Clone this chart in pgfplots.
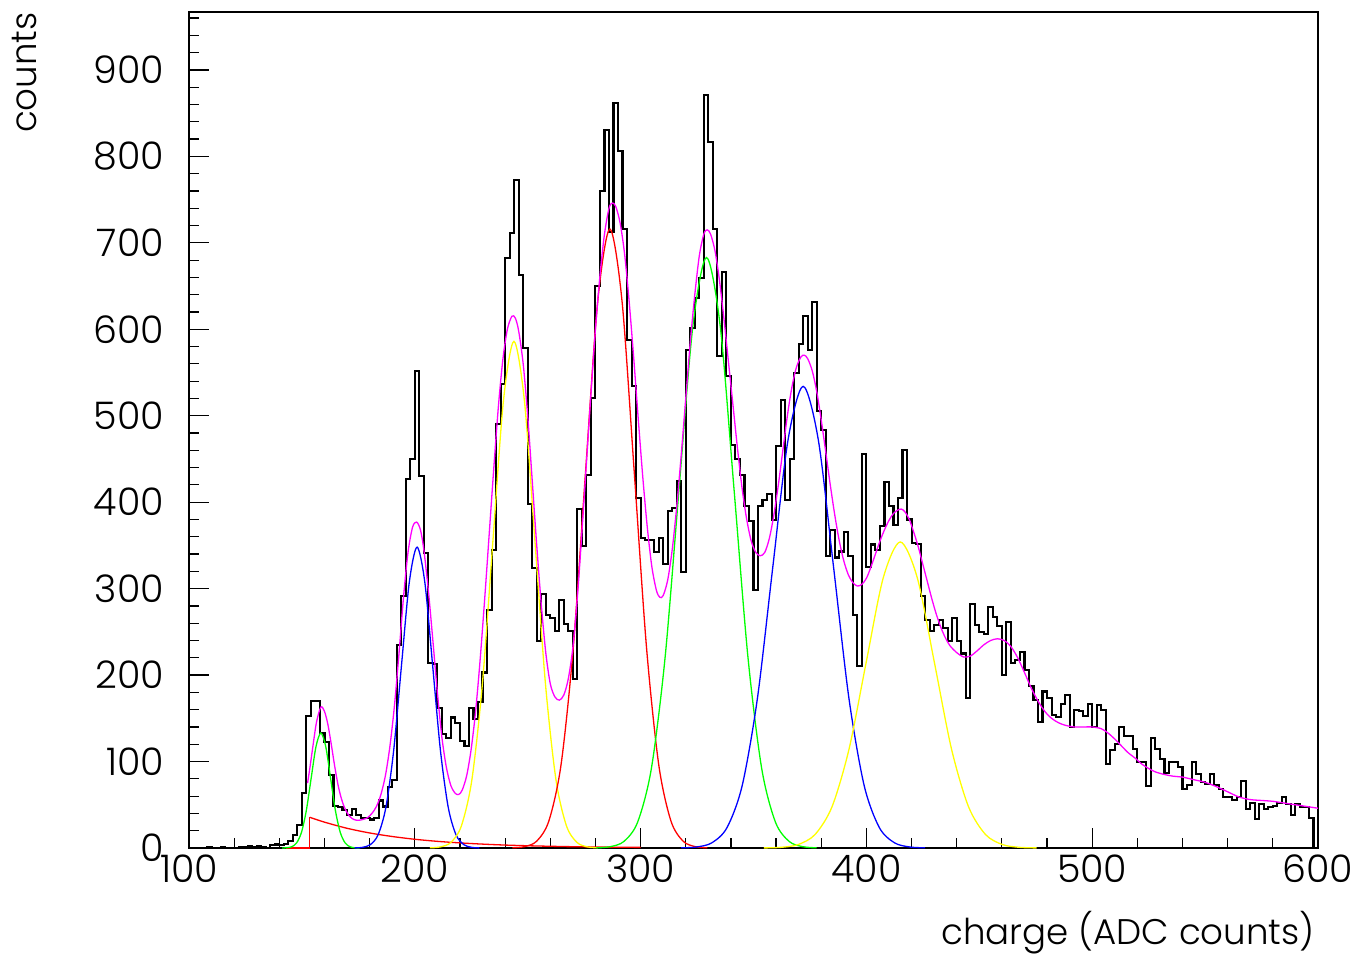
\documentclass[border=0pt]{standalone}
\usepackage{fontspec}
\setmainfont{Poppins Light}
\usepackage{pgfplots}
\pgfplotsset{compat=1.18}
\definecolor{cmag}{RGB}{255,0,255}
\definecolor{cgreen}{RGB}{0,255,0}
\definecolor{cblue}{RGB}{0,0,255}
\definecolor{cyellow}{RGB}{255,255,0}
\definecolor{cred}{RGB}{255,0,0}
\begin{document}
\begin{tikzpicture}[x=1pt,y=1pt]
\begin{axis}[
  at={(0,0)}, anchor=south west,
  scale only axis, width=564.5pt, height=418pt,
  xmin=100, xmax=600, ymin=0, ymax=967,
  xtick={100,200,...,600}, ytick={0,100,...,900},
  minor xtick={120,140,160,180,220,240,260,280,320,340,360,380,420,440,460,480,520,540,560,580},
  minor ytick={20,40,60,80,120,140,160,180,220,240,260,280,320,340,360,380,420,440,460,480,520,540,560,580,620,640,660,680,720,740,760,780,820,840,860,880,920,940,960},
  tick align=inside, tick pos=left,
  major tick length=10pt, minor tick length=5pt,
  axis line style={line width=0.6pt},
  every tick/.style={black, line width=0.6pt},
  tick label style={font=\fontsize{19}{21}\selectfont},
  /pgf/number format/assume math mode=true,
  /pgf/number format/1000 sep={},
  yticklabel style={xshift=-9pt},
]
% histogram
\addplot[const plot, black, line width=1.05pt] coordinates {
(100,0) (102,0) (104,0) (106,0) (108,1) (110,0) (112,0) (114,1) (116,0) (118,0)
(120,0) (122,1) (124,1) (126,2) (128,1) (130,2) (132,1) (134,0) (136,3) (138,4)
(140,3) (142,5) (144,8) (146,15) (148,27) (150,64) (152,153) (154,170) (156,170) (158,133)
(160,123) (162,84) (164,49) (166,47) (168,44) (170,38) (172,45) (174,38) (176,35) (178,35)
(180,33) (182,35) (184,55) (186,48) (188,71) (190,79) (192,235) (194,291) (196,427) (198,450)
(200,552) (202,430) (204,341) (206,214) (208,213) (210,162) (212,132) (214,127) (216,151) (218,145)
(220,124) (222,118) (224,162) (226,149) (228,169) (230,203) (232,275) (234,345) (236,490) (238,537)
(240,682) (242,711) (244,773) (246,663) (248,578) (250,398) (252,324) (254,239) (256,294) (258,270)
(260,266) (262,251) (264,287) (266,259) (268,251) (270,195) (272,392) (274,349) (276,431) (278,521)
(280,650) (282,760) (284,830) (286,713) (288,862) (290,806) (292,716) (294,588) (296,534) (298,405)
(300,359) (302,356) (304,356) (306,342) (308,359) (310,328) (312,390) (314,393) (316,425) (318,319)
(320,576) (322,601) (324,636) (326,659) (328,871) (330,817) (332,716) (334,569) (336,666) (338,546)
(340,466) (342,450) (344,431) (346,396) (348,378) (350,298) (352,396) (354,403) (356,409) (358,379)
(360,465) (362,518) (364,403) (366,450) (368,549) (370,583) (372,615) (374,576) (376,632) (378,505)
(380,483) (382,338) (384,368) (386,336) (388,343) (390,365) (392,338) (394,270) (396,210) (398,456)
(400,325) (402,351) (404,345) (406,372) (408,423) (410,396) (412,374) (414,405) (416,460) (418,380)
(420,353) (422,352) (424,292) (426,264) (428,251) (430,258) (432,264) (434,254) (436,239) (438,266)
(440,239) (442,225) (444,173) (446,282) (448,258) (450,250) (452,248) (454,279) (456,267) (458,257)
(460,200) (462,261) (464,214) (466,217) (468,227) (470,206) (472,187) (474,171) (476,146) (478,181)
(480,173) (482,154) (484,152) (486,167) (488,177) (490,140) (492,160) (494,158) (496,153) (498,167)
(500,140) (502,165) (504,160) (506,97) (508,113) (510,120) (512,140) (514,130) (516,130) (518,114)
(520,99) (522,99) (524,72) (526,127) (528,114) (530,103) (532,87) (534,99) (536,99) (538,94)
(540,68) (542,73) (544,99) (546,86) (548,76) (550,74) (552,86) (554,73) (556,68) (558,59)
(560,59) (562,56) (564,59) (566,77) (568,45) (570,52) (572,34) (574,51) (576,45) (578,47)
(580,49) (582,52) (584,59) (586,51) (588,38) (590,51) (592,47) (594,47) (596,35) (598,0) (600,0)};
% background exponential
\addplot[cred, line width=0.65pt] coordinates {(143,0) (153.5,0) (153.5,35.5)};
\addplot[cred, line width=0.65pt, smooth] coordinates {(153.5,35.5) (160,29.9) (170,22.8) (180,17.4) (190,13.3) (200,10.1) (210,7.7) (220,5.9) (230,4.5) (240,3.4) (250,2.6) (260,2.0) (270,1.5) (280,1.2) (290,0.9) (300,0.7)};
% components
\addplot[cgreen, line width=0.65pt, smooth] coordinates {(141.2,0.04) (143.35,0.29) (145.5,1.48) (147.65,5.84) (149.8,18.0) (151.95,43.2) (154.1,80.7) (156.25,117.4) (158.4,133) (160.55,117.4) (162.7,80.7) (164.85,43.2) (167.0,18.0) (169.15,5.84) (171.3,1.48) (173.45,0.29) (175.6,0.04)};
\addplot[cblue, line width=0.65pt, smooth] coordinates {(173.4,0.12) (176.85,0.76) (180.3,3.87) (183.75,15.3) (187.2,47.1) (190.65,113.0) (194.1,211.1) (197.55,307.1) (201,348) (204.45,307.1) (207.9,211.1) (211.35,113.0) (214.8,47.1) (218.25,15.3) (221.7,3.87) (225.15,0.76) (228.6,0.12)};
\addplot[cyellow, line width=0.65pt, smooth] coordinates {(206.7,0.20) (211.35,1.28) (216.0,6.51) (220.65,25.7) (225.3,79.3) (229.95,190.3) (234.6,355.4) (239.25,517.1) (243.9,586) (248.55,517.1) (253.2,355.4) (257.85,190.3) (262.5,79.3) (267.15,25.7) (271.8,6.51) (276.45,1.28) (281.1,0.20)};
\addplot[cred, line width=0.65pt, smooth] coordinates {(243.2,0.24) (248.6,1.57) (254.0,7.95) (259.4,31.5) (264.8,96.9) (270.2,232.5) (275.6,434.3) (281.0,631.9) (286.4,716) (291.8,631.9) (297.2,434.3) (302.6,232.5) (308.0,96.9) (313.4,31.5) (318.8,7.95) (324.2,1.57) (329.6,0.24)};
\addplot[cgreen, line width=0.65pt, smooth] coordinates {(280.4,0.23) (286.5,1.49) (292.6,7.59) (298.7,30.0) (304.8,92.4) (310.9,221.8) (317.0,414.2) (323.1,602.7) (329.2,683) (335.3,602.7) (341.4,414.2) (347.5,221.8) (353.6,92.4) (359.7,30.0) (365.8,7.59) (371.9,1.49) (378.0,0.23)};
\addplot[cblue, line width=0.65pt, smooth] coordinates {(318.0,0.18) (324.75,1.17) (331.5,5.93) (338.25,23.5) (345.0,72.3) (351.75,173.4) (358.5,323.9) (365.25,471.3) (372,534) (378.75,471.3) (385.5,323.9) (392.25,173.4) (399.0,72.3) (405.75,23.5) (412.5,5.93) (419.25,1.17) (426.0,0.18)};
\addplot[cyellow, line width=0.65pt, smooth] coordinates {(354.6,0.12) (362.15,0.77) (369.7,3.93) (377.25,15.6) (384.8,47.9) (392.35,114.9) (399.9,214.7) (407.45,312.4) (415,354) (422.55,312.4) (430.1,214.7) (437.65,114.9) (445.2,47.9) (452.75,15.6) (460.3,3.93) (467.85,0.77) (475.4,0.12)};
% total fit
\addplot[cmag, line width=0.65pt, smooth] coordinates {
(152.5,75) (153.5,92) (155,120) (156.5,146) (158.4,163) (160,158) (161.5,143) (163,120) (164.5,95) (166,73) (167.5,57) (169,46) (171,37) (173,33) (175,32) (177,33) (179,35) (181,40) (183,48) (185,62) (187,84) (189,118) (191,165) (193,225) (195,290) (197,342) (199,371) (200.8,377) (202.5,368) (204,345) (206,298) (208,240) (210,180) (212,128) (214,93) (216,72) (218,63) (219.5,62) (221,67) (223,84) (225,115) (227,160) (229,220) (231,290) (233,365) (235,440) (237,510) (239,565) (241,600) (243,615) (244.5,613) (246,598) (248,560) (250,500) (252,425) (254,350) (256,282) (258,226) (260,190) (262,175) (264,171) (266,177) (268,196) (270,232) (272,290) (274,365) (276,445) (278,525) (280,600) (282,662) (284,710) (286,740) (287.5,746) (289,742) (291,722) (293,685) (295,630) (297,565) (299,495) (301,428) (303,370) (305,325) (307,298) (308.5,290) (310,292) (312,310) (314,345) (316,395) (318,455) (320,520) (322,585) (324,640) (326,685) (328,710) (329.5,715) (331,710) (333,690) (335,655) (337,610) (339,560) (341,510) (343,460) (345,415) (347,380) (349,355) (351,342) (353,338) (355,342) (357,358) (359,385) (361,420) (363,460) (365,500) (367,533) (369,556) (371,568) (372.5,570) (374,566) (376,552) (378,528) (380,495) (382,458) (384,420) (386,385) (388,355) (390,332) (392,316) (394,307) (396,303) (398,305) (400,312) (402,325) (404,340) (406,355) (408,368) (410,379) (412,387) (414,391) (415.5,392) (417,389) (419,380) (421,365) (423,348) (425,328) (427,308) (429,288) (431,270) (433,255) (435,243) (437,234) (440,226) (443,221) (446,222) (449,228) (452,235) (455,240) (458,242) (461,240) (464,233) (467,220) (470,203) (473,185) (476,170) (479,158) (482,150) (485,145) (488,142) (492,140) (496,140) (500,140) (504,138) (507,133) (510,126) (513,118) (516,110) (519,104) (522,97) (525,92) (528,88) (532,85) (536,83) (540,82) (545,79) (550,76) (555,71) (560,65) (565,59) (570,56) (575,55) (580,54) (585,52) (590,50) (595,48) (600,46)};
\end{axis}
\node[rotate=90, anchor=north east, inner sep=0pt, font=\fontsize{17.8}{20}\selectfont] at (-88.5pt,418pt) {counts};
\node[anchor=base east, inner sep=0pt, font=\fontsize{17.8}{20}\selectfont] at (563pt,-48pt) {charge (ADC counts)};
\pgfresetboundingbox
\path (-94.5pt,-55.5pt) rectangle (585pt,424pt);
\end{tikzpicture}
\end{document}
